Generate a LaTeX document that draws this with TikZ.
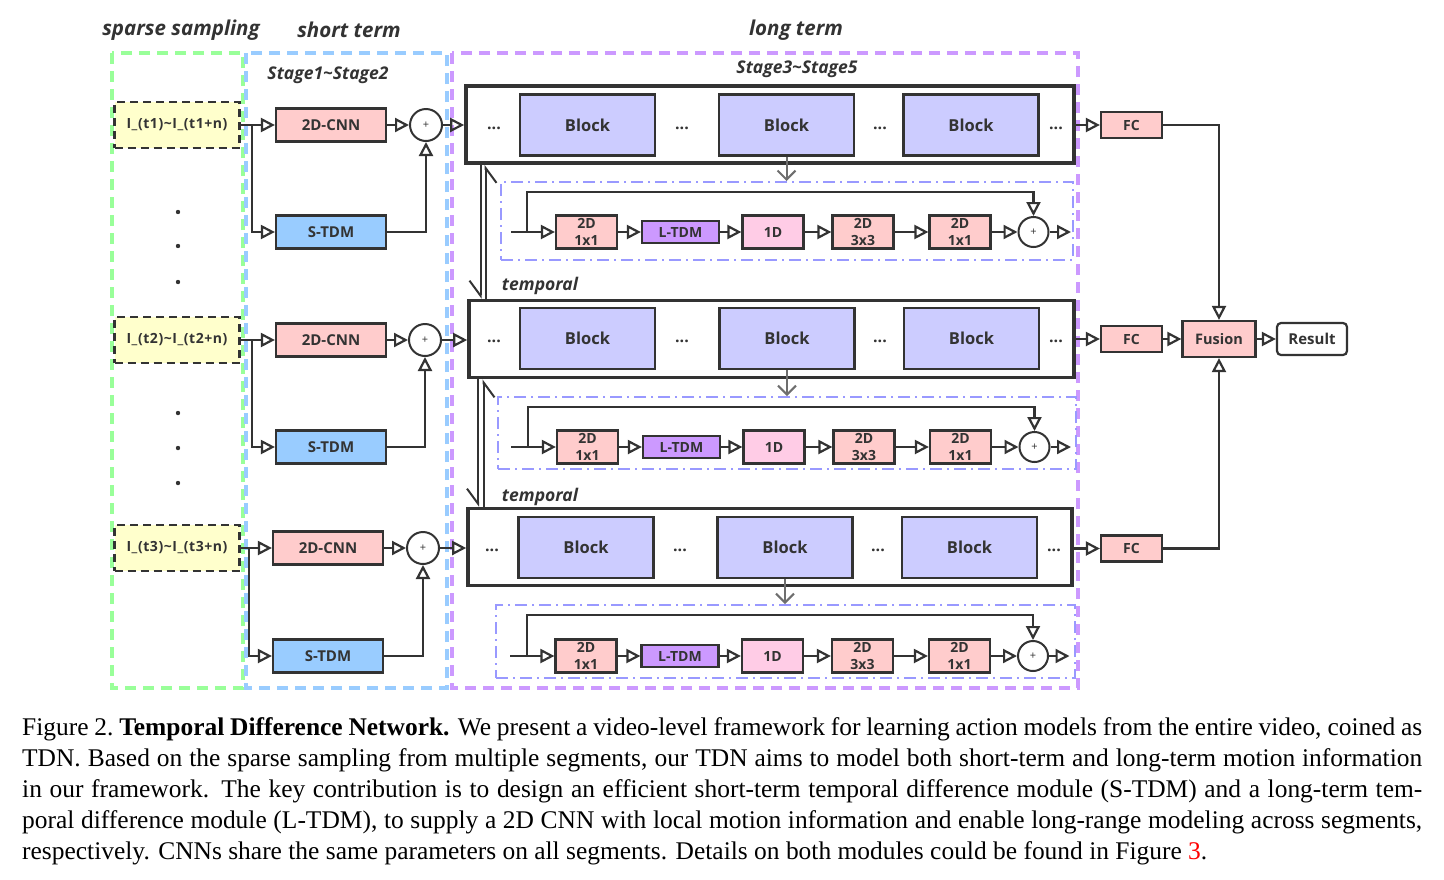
\documentclass[tikz,border=0pt]{standalone}
\usepackage{fontspec}
\setmainfont{Liberation Serif}
\newfontfamily\dg{Open Sans}
\newfontfamily\dgs{Open Sans}[LetterSpace=4]
\usetikzlibrary{arrows.meta,calc}
\definecolor{dk}{RGB}{51,51,51}
\definecolor{grn}{RGB}{153,255,153}
\definecolor{blu}{RGB}{153,204,255}
\definecolor{pur}{RGB}{204,153,255}
\definecolor{ddc}{RGB}{153,153,255}
\definecolor{yel}{RGB}{255,255,204}
\definecolor{pnk}{RGB}{255,204,204}
\definecolor{stdm}{RGB}{153,204,255}
\definecolor{blkc}{RGB}{204,204,255}
\definecolor{ltdm}{RGB}{204,153,255}
\definecolor{oned}{RGB}{255,204,230}
\definecolor{gry}{RGB}{110,110,110}
\begin{document}
\begin{tikzpicture}[x=1pt,y=-1pt,
  ln/.style={draw=dk, line width=2.2pt},
  arr/.style={ln, -{Triangle[open, length=14pt, width=14pt]}},
  harp/.style={draw=dk, line width=2pt, -{Straight Barb[right, length=15pt, width=22pt]}},
  garr/.style={draw=gry, line width=2pt, -{Straight Barb[length=9pt, width=18pt]}},
  frame/.style={line width=4pt, dash pattern=on 11pt off 7pt},
  ddbox/.style={draw=ddc, line width=2pt, dash pattern=on 12pt off 5pt on 2pt off 5pt, inner sep=0pt},
  box/.style={draw=dk, line width=2.2pt, inner sep=0pt, text=dk, font=\dg\bfseries\fontsize{15}{17}\selectfont},
  inbox/.style={box, fill=yel, dash pattern=on 8pt off 5pt, minimum width=125pt, minimum height=46pt, font=\dgs\bfseries\fontsize{14}{16}\selectfont},
  cnn/.style={box, fill=pnk, minimum width=110pt, minimum height=33pt},
  stb/.style={box, fill=stdm, minimum width=110pt, minimum height=33pt},
  pl/.style={draw=dk, line width=2pt, circle, fill=white, inner sep=0pt, text=dk, font=\dg\fontsize{11}{11}\selectfont},
  stage/.style={draw=dk, line width=3.6pt, fill=white, inner sep=0pt, minimum height=77pt},
  blk/.style={box, fill=blkc, minimum width=135pt, minimum height=61pt, font=\dg\bfseries\fontsize{16.5}{18}\selectfont},
  dots/.style={text=dk, font=\dg\bfseries\fontsize{16}{18}\selectfont, inner sep=0pt},
  tb/.style={box, fill=pnk, minimum width=61pt, minimum height=33pt, align=center, font=\dg\bfseries\fontsize{14}{17}\selectfont},
  lt/.style={box, fill=ltdm, minimum width=77pt, minimum height=22pt, font=\dg\bfseries\fontsize{14}{16}\selectfont},
  od/.style={box, fill=oned, minimum width=61pt, minimum height=33pt, font=\dg\bfseries\fontsize{14}{16}\selectfont},
  fcb/.style={box, fill=pnk, minimum width=61pt, minimum height=26pt, font=\dg\bfseries\fontsize{14}{16}\selectfont},
  ttl/.style={text=dk, font=\dg\bfseries\itshape\fontsize{20.5}{23}\selectfont, inner sep=0pt},
  sttl/.style={text=dk, font=\dg\bfseries\itshape\fontsize{17.5}{20}\selectfont, inner sep=0pt}
]
\useasboundingbox (0,0) rectangle (1444,879);

% frames
\draw[frame, draw=grn] (112,53) rectangle (243,688);
\draw[frame, draw=blu] (246,53) rectangle (447,688);
\draw[frame, draw=pur] (452,53) rectangle (1078,688);

\node[ttl] (t1) at (181,30) {sparse sampling};
\node[ttl] (t2) at (349,30) {short term};
\node[ttl] (t3) at (796,30) {long term};
\node[sttl] (s12) at (328,75) {Stage1\textasciitilde Stage2};
\node[sttl] (s35) at (797,69) {Stage3\textasciitilde Stage5};

% sampling dots
\foreach \yy in {212,246,282,413,448,483} \fill[dk] (178,\yy) circle (2.2pt);

% left rows
\foreach \i/\y/\ys/\cx/\px/\bx in {1/125/232/331/426/252, 2/340/447/331/425/252, 3/548/656/328/423/249} {
  \node[inbox] (in\i) at (177,\y) {I\_(t\i)\textasciitilde I\_(t\i+n)};
  \node[cnn] (cnn\i) at (\cx,\y) {2D-CNN};
  \node[stb] (st\i) at (\cx,\ys) {S-TDM};
  \node[pl, minimum size=32pt] (p\i) at (\px,\y) {+};
  \coordinate (br\i) at (\bx,\y);
  \draw[ln] (in\i.east) -- (br\i);
  \draw[arr] (br\i) -- (cnn\i.west);
  \draw[arr] (br\i) |- (st\i.west);
  \draw[arr] (cnn\i.east) -- (p\i.west);
  \draw[arr] (st\i.east) -| (p\i.south);
}

% dash-dot temporal boxes
\foreach \i/\ty/\L/\R/\T/\B/\sx/\bx/\tp/\a/\l/\d/\e/\f/\c/\o in {
1/232/501/1073/182/260/511/527/192/586.5/680.5/773/863/960/1033.5/1071,
2/447/498/1076/397/469/511/528/407/587.5/681.5/774/864/960.5/1034.5/1071,
3/656/496/1075/605/678/510/527/615/586/680/772.5/862.5/959.5/1033/1069.5} {
  \node[ddbox, minimum width={\R-\L}, minimum height={\B-\T}] (T\i) at ({(\L+\R)/2},{(\T+\B)/2}) {};
  \node[tb] (ta\i) at (\a,\ty) {2D\\1x1};
  \node[lt] (tl\i) at (\l,\ty) {L-TDM};
  \node[od] (td\i) at (\d,\ty) {1D};
  \node[tb] (te\i) at (\e,\ty) {2D\\3x3};
  \node[tb] (tf\i) at (\f,\ty) {2D\\1x1};
  \node[pl, minimum size=30pt] (tc\i) at (\c,\ty) {+};
  \coordinate (ts\i) at (\sx,\ty);
  \coordinate (tb\i) at (\bx,\ty);
  \coordinate (tt\i) at (\bx,\tp);
  \coordinate (to\i) at (\o,\ty);
  \draw[ln] (ts\i) -- (tb\i);
  \draw[arr] (tb\i) -- (ta\i.west);
  \draw[arr] (tb\i) -- (tt\i) -| (tc\i.north);
  \draw[arr] (ta\i.east) -- (tl\i.west);
  \draw[arr] (tl\i.east) -- (td\i.west);
  \draw[arr] (td\i.east) -- (te\i.west);
  \draw[arr] (te\i.east) -- (tf\i.west);
  \draw[arr] (tf\i.east) -- (tc\i.west);
  \draw[arr] (tc\i.east) -- (to\i);
}

% stage rows
\foreach \i/\sx/\sy/\sw/\bA/\bB/\bC/\by/\dA/\dB/\dC/\dD in {
1/770/124.5/608/587.5/786.5/971/125/494/682/880/1056,
2/771.5/339/605/587.5/787/971.5/338.5/494/682/880/1056,
3/770/547/604/586/785/969.5/547.5/492/680/878/1054} {
  \node[stage, minimum width=\sw] (S\i) at (\sx,\sy) {};
  \node[blk] (bk\i a) at (\bA,\by) {Block};
  \node[blk] (bk\i b) at (\bB,\by) {Block};
  \node[blk] (bk\i c) at (\bC,\by) {Block};
  \node[dots] (d\i a) at (\dA,\by+3) {...};
  \node[dots] (d\i b) at (\dB,\by+3) {...};
  \node[dots] (d\i c) at (\dC,\by+3) {...};
  \node[dots] (d\i d) at (\dD,\by+3) {...};
  \draw[arr] (p\i.east) -- (p\i.east -| S\i.west);
  \draw[garr] (bk\i b.south) -- (bk\i b.south |- T\i.north);
}

% temporal labels
\node[sttl] (tmp1) at (540,286) {temporal};
\node[sttl] (tmp2) at (540,497) {temporal};

% double connections between stages
\coordinate (dl1) at (480.5,0); \coordinate (dr1) at (485.5,0);
\coordinate (dl2) at (478,0); \coordinate (dr2) at (483.5,0);
\draw[harp] (S1.south -| dl1) -- (S2.north -| dl1);
\draw[harp] (S2.north -| dr1) -- (S1.south -| dr1);
\draw[harp] (S2.south -| dl2) -- (S3.north -| dl2);
\draw[harp] (S3.north -| dr2) -- (S2.south -| dr2);

% right side
\node[fcb] (fc1) at (1131.5,125) {FC};
\node[fcb] (fc2) at (1131.5,339) {FC};
\node[fcb] (fc3) at (1131.5,548.5) {FC};
\node[box, fill=pnk, minimum width=73pt, minimum height=36pt, font=\dg\bfseries\fontsize{14.5}{16}\selectfont] (fu) at (1219,339) {Fusion};
\node[box, fill=white, rounded corners=4pt, minimum width=70pt, minimum height=32pt] (res) at (1312,339) {Result};
\draw[arr] (fc1.west -| S1.east) -- (fc1.west);
\draw[arr] (fc2.west -| S2.east) -- (fc2.west);
\draw[arr] (fc3.west -| S3.east) -- (fc3.west);
\draw[arr] (fc1.east) -| (fu.north);
\draw[arr] (fc3.east) -| (fu.south);
\draw[arr] (fc2.east) -- (fu.west);
\draw[arr] (fu.east) -- (res.west);

% caption
\node[anchor=north west, inner sep=0pt, text width=1400pt, align=justify, font=\fontsize{25.45}{31.1}\selectfont] (cap) at (22,717) {\hyphenpenalty=10000\emergencystretch=20pt
Figure 2.\ \textbf{Temporal Difference Network.} We present a video-level framework for learning action models from the entire video, coined as\linebreak
TDN. Based on the sparse sampling from multiple segments, our TDN aims to model both short-term and long-term motion information\linebreak
in our framework.  The key contribution is to design an efficient short-term temporal difference module (S-TDM) and a long-term tem-\linebreak
poral difference module (L-TDM), to supply a 2D CNN with local motion information and enable long-range modeling across segments,\linebreak
respectively. CNNs share the same parameters on all segments. Details on both modules could be found in Figure \textcolor{red}{3}.};
\end{tikzpicture}
\end{document}
